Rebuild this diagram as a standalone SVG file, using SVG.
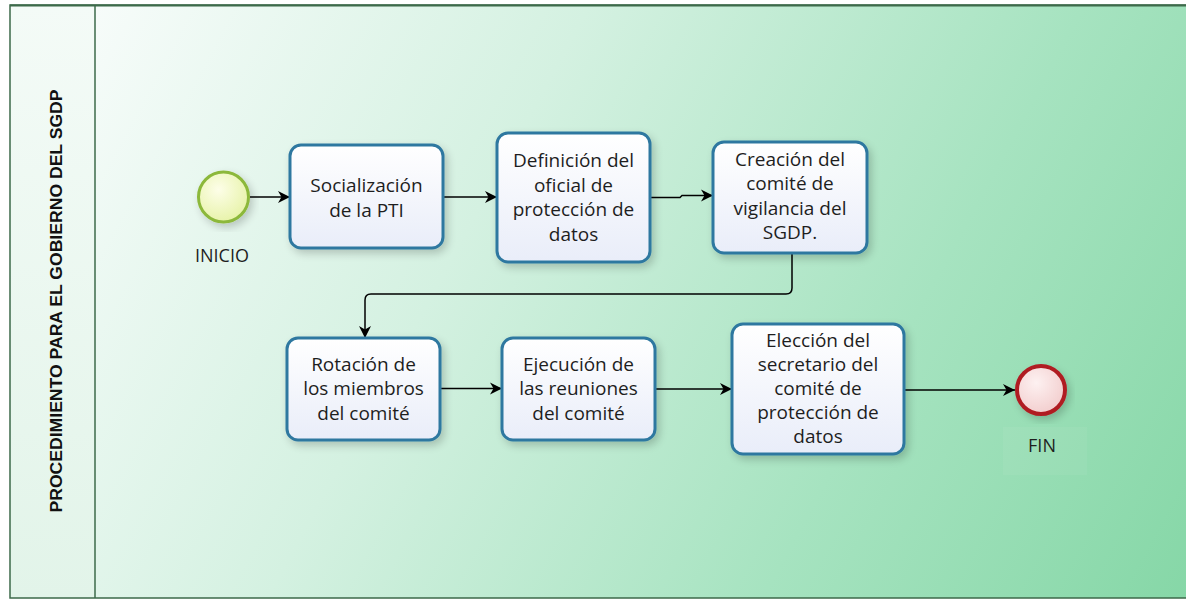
<svg xmlns="http://www.w3.org/2000/svg" width="1186" height="600" viewBox="0 0 1186 600">
<defs>
  <linearGradient id="poolBg" x1="95" y1="5" x2="1186" y2="598" gradientUnits="userSpaceOnUse">
    <stop offset="0" stop-color="#f7fcfa"/>
    <stop offset="0.35" stop-color="#d4f1e1"/>
    <stop offset="0.7" stop-color="#a6e3c0"/>
    <stop offset="1" stop-color="#86d7a7"/>
  </linearGradient>
  <linearGradient id="laneBg" x1="0" y1="0" x2="0" y2="1">
    <stop offset="0" stop-color="#f4fbf7"/>
    <stop offset="1" stop-color="#e2f4e9"/>
  </linearGradient>
  <linearGradient id="taskFill" x1="0" y1="0" x2="0" y2="1">
    <stop offset="0" stop-color="#ffffff"/>
    <stop offset="1" stop-color="#e9edf9"/>
  </linearGradient>
  <radialGradient id="startFill" cx="0.4" cy="0.35" r="0.7">
    <stop offset="0" stop-color="#fdfee8"/>
    <stop offset="1" stop-color="#e6f2a6"/>
  </radialGradient>
  <radialGradient id="endFill" cx="0.4" cy="0.35" r="0.7">
    <stop offset="0" stop-color="#fdf1f1"/>
    <stop offset="1" stop-color="#f2cccc"/>
  </radialGradient>
  <filter id="shadow" x="-20%" y="-20%" width="140%" height="140%">
    <feGaussianBlur in="SourceAlpha" stdDeviation="4"/>
    <feOffset dx="3" dy="4" result="b"/>
    <feComponentTransfer><feFuncA type="linear" slope="0.2"/></feComponentTransfer>
    <feMerge><feMergeNode/><feMergeNode in="SourceGraphic"/></feMerge>
  </filter>
  <marker id="arrow" markerWidth="14" markerHeight="14" refX="12" refY="7" orient="auto" markerUnits="userSpaceOnUse">
    <path d="M0,1 L12,7 L0,13 L3.5,7 Z" fill="#000"/>
  </marker>
  <style>
    .task rect { fill: url(#taskFill); stroke: #2f78a0; stroke-width: 3; }
    .task text { font-family: "Open Sans", "DejaVu Sans", sans-serif; font-size: 19px; fill: #1e1e1e; text-anchor: middle; }
    .lbl { font-family: "Open Sans", "DejaVu Sans", sans-serif; font-size: 18px; fill: #1e1e1e; text-anchor: middle; }
    .conn path { fill: none; stroke: #000; stroke-width: 1.5; marker-end: url(#arrow); }
  </style>
</defs>

<g id="pool">
  <rect x="10" y="5" width="1190" height="593" fill="url(#poolBg)"/>
  <rect x="10" y="5" width="85" height="593" fill="url(#laneBg)"/>
  <path d="M1186,5 H10 V598 H1186" fill="none" stroke="#3d6a4a" stroke-width="1.5"/>
  <line x1="10" y1="5.5" x2="1186" y2="5.5" stroke="#3d6a4a" stroke-width="2"/>
  <line x1="95" y1="5" x2="95" y2="598" stroke="#3d6a4a" stroke-width="1.5"/>
  <text x="58" y="301" transform="rotate(-90 58 301)" font-family="Liberation Sans, Arial, sans-serif" font-size="17" font-weight="bold" fill="#111" text-anchor="middle" dominant-baseline="middle" textLength="423" lengthAdjust="spacingAndGlyphs">PROCEDIMIENTO PARA EL GOBIERNO DEL SGDP</text>
</g>

<g id="connectors" class="conn">
  <path d="M250,197 H290"/>
  <path d="M443,197 H497"/>
  <path d="M650,197.5 H680 L682,195.5 H713"/>
  <path d="M792,252 V288 Q792,294 786,294 H371 Q365,294 365,300 V338"/>
  <path d="M440,388.5 H502"/>
  <path d="M655,389 H732"/>
  <path d="M904,390 H1015"/>
</g>

<g id="start">
  <circle cx="223.5" cy="197" r="25" fill="url(#startFill)" stroke="#8cb83a" stroke-width="3" filter="url(#shadow)"/>
  <text class="lbl" x="222" y="262">INICIO</text>
</g>

<g id="task1" class="task">
  <rect x="290" y="145" width="153" height="103" rx="11" filter="url(#shadow)"/>
  <text x="366.5" y="192">Socialización</text>
  <text x="366.5" y="217">de la PTI</text>
</g>

<g id="task2" class="task">
  <rect x="497" y="133" width="153" height="129" rx="11" filter="url(#shadow)"/>
  <text x="573.5" y="167">Definición del</text>
  <text x="573.5" y="191.5">oficial de</text>
  <text x="573.5" y="216">protección de</text>
  <text x="573.5" y="240.5">datos</text>
</g>

<g id="task3" class="task">
  <rect x="713" y="142" width="154" height="111" rx="11" filter="url(#shadow)"/>
  <text x="790" y="165.5">Creación del</text>
  <text x="790" y="190">comité de</text>
  <text x="790" y="214.5">vigilancia del</text>
  <text x="790" y="239">SGDP.</text>
</g>

<g id="task4" class="task">
  <rect x="287" y="338" width="153" height="102" rx="11" filter="url(#shadow)"/>
  <text x="363.5" y="370.5">Rotación de</text>
  <text x="363.5" y="395">los miembros</text>
  <text x="363.5" y="419.5">del comité</text>
</g>

<g id="task5" class="task">
  <rect x="502" y="338" width="153" height="102" rx="11" filter="url(#shadow)"/>
  <text x="578.5" y="370.5">Ejecución de</text>
  <text x="578.5" y="395">las reuniones</text>
  <text x="578.5" y="419.5">del comité</text>
</g>

<g id="task6" class="task">
  <rect x="732" y="324" width="172" height="130" rx="11" filter="url(#shadow)"/>
  <text x="818" y="347">Elección del</text>
  <text x="818" y="371">secretario del</text>
  <text x="818" y="395">comité de</text>
  <text x="818" y="419">protección de</text>
  <text x="818" y="443">datos</text>
</g>

<g id="end">
  <rect x="1003" y="427" width="84" height="48" fill="#ffffff" fill-opacity="0.05"/>
  <circle cx="1041" cy="390" r="24" fill="url(#endFill)" stroke="#b01c22" stroke-width="4" filter="url(#shadow)"/>
  <text class="lbl" x="1042" y="452">FIN</text>
</g>
</svg>
